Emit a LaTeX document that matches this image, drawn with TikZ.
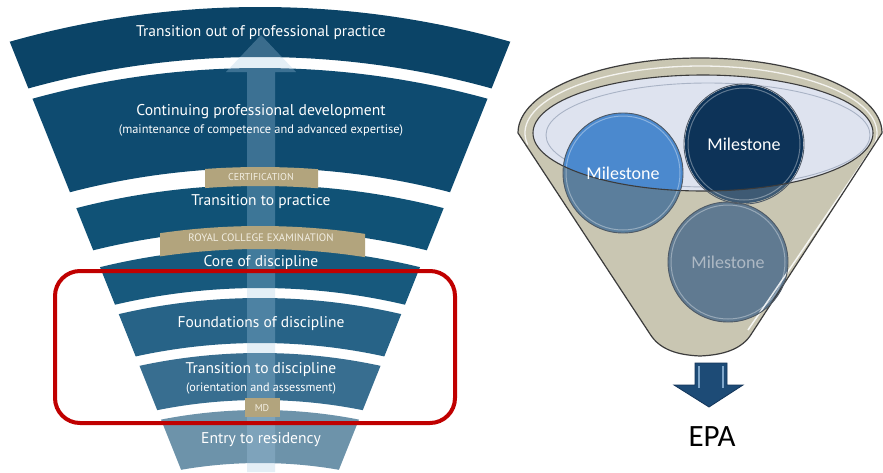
\documentclass[tikz,border=0pt]{standalone}
\usepackage{fontspec}
\newfontfamily\ptsans{PT Sans}
\newfontfamily\carlito{Carlito}
\definecolor{bandA}{HTML}{0B4467}
\definecolor{bandB}{HTML}{0E4B70}
\definecolor{bandC}{HTML}{105276}
\definecolor{bandD}{HTML}{17597D}
\definecolor{bandE}{HTML}{276387}
\definecolor{bandF}{HTML}{386E90}
\definecolor{bandG}{HTML}{6D93AA}
\definecolor{arrowc}{HTML}{A8CBE4}
\definecolor{gold}{HTML}{B2A47D}
\definecolor{goldtxt}{HTML}{F2EEE2}
\definecolor{redbox}{HTML}{C00000}
\definecolor{khaki}{HTML}{C9C6B2}
\definecolor{funline}{HTML}{3C3C3C}
\definecolor{pale}{HTML}{DEE3EF}
\definecolor{innerring}{HTML}{A9B3C5}
\definecolor{mAbright}{HTML}{4B89CE}
\definecolor{mAmuted}{HTML}{5B7E9C}
\definecolor{mBbright}{HTML}{0D3358}
\definecolor{mBmuted}{HTML}{3E5A74}
\definecolor{mC}{HTML}{607A91}
\definecolor{mCtxt}{HTML}{AEB9C4}
\definecolor{ringc}{HTML}{4F5A66}
\definecolor{epac}{HTML}{1D4B76}
\definecolor{epaline}{HTML}{13355A}
\definecolor{epalight}{HTML}{7FA6C9}
\begin{document}
\begin{tikzpicture}[x=1pt,y=-1pt,
  bandtext/.style={text=white, inner sep=0pt, anchor=center},
  goldtext/.style={text=goldtxt, inner sep=0pt, font=\ptsans\fontsize{10}{11}\selectfont},
  mile/.style={circle, minimum size=120pt, inner sep=0pt, draw=ringc, line width=0.9pt, font=\carlito\fontsize{18}{20}\selectfont},
]
\useasboundingbox (0,0) rectangle (883,472);
\fill[white] (0,0) rectangle (883,472);

% ---------- left funnel bands ----------
\begin{scope}
\clip (-7,0) -- (527,0) -- (338,472) -- (182,472) -- cycle;
\foreach \ro/\ri/\c in {913/863/bandA, 852/752/bandB, 735/690/bandC, 672/632/bandD, 622/577/bandE, 567/520/bandF, 510/457/bandG}
  \fill[\c, even odd rule] (260,920) circle[radius=\ro pt] (260,920) circle[radius=\ri pt];
\end{scope}

% translucent upward arrow
\fill[arrowc, opacity=0.3] (261,35) -- (296,72) -- (275,72) -- (275,472) -- (247,472) -- (247,72) -- (226,72) -- cycle;

% gold labels
\begin{scope}
\clip (205,150) rectangle (318,200);
\fill[gold, even odd rule] (260,920) circle[radius=753pt] (260,920) circle[radius=734pt];
\end{scope}
\begin{scope}
\clip (160,210) rectangle (365,260);
\fill[gold, even odd rule] (260,920) circle[radius=694pt] (260,920) circle[radius=671pt];
\end{scope}
\fill[gold] (245,398) rectangle (280,417);

% texts
\node[bandtext, font=\ptsans\fontsize{15.5}{17}\selectfont] (t1) at (261,33) {Transition out of professional practice};
\node[bandtext, font=\ptsans\fontsize{15.6}{17}\selectfont] (t2) at (261,112) {Continuing professional development};
\node[bandtext, font=\ptsans\fontsize{12.4}{14}\selectfont] (t2b) at (261,130) {(maintenance of competence and advanced expertise)};
\node[goldtext] (g1) at (261,177) {CERTIFICATION};
\node[bandtext, font=\ptsans\fontsize{15.5}{17}\selectfont] (t3) at (261,202) {Transition to practice};
\node[goldtext, font=\ptsans\fontsize{10.8}{12}\selectfont] (g2) at (261,238) {ROYAL COLLEGE EXAMINATION};
\node[bandtext, font=\ptsans\fontsize{15.5}{17}\selectfont] (t4) at (261,263) {Core of discipline};
\node[bandtext, font=\ptsans\fontsize{15.5}{17}\selectfont] (t5) at (261,324) {Foundations of discipline};
\node[bandtext, font=\ptsans\fontsize{15.5}{17}\selectfont] (t6) at (261,370) {Transition to discipline};
\node[bandtext, font=\ptsans\fontsize{12.2}{14}\selectfont] (t6b) at (261,388) {(orientation and assessment)};
\node[goldtext] (g3) at (262,408) {MD};
\node[bandtext, font=\ptsans\fontsize{15.6}{17}\selectfont] (t7) at (261,440) {Entry to residency};

% red highlight box
\draw[redbox, line width=4pt, rounded corners=25pt] (55,271) rectangle (455,423);

% ---------- right funnel ----------
\path[fill=khaki] (518,133) arc[start angle=180, end angle=360, x radius=182, y radius=75]
  -- (752,333) .. controls (742,350) and (722,355) .. (700,356)
  .. controls (678,355) and (660,350) .. (650,334) -- cycle;
\fill[pale] (703,133) ellipse[x radius=170, y radius=58];
\draw[innerring, line width=0.9pt] (708,135) ellipse[x radius=162, y radius=52];

% milestone circles, muted (inside funnel)
\fill[mAmuted] (623,173) circle[radius=60pt];
\fill[mBmuted] (744,144) circle[radius=59pt];
\fill[mC] (728,262) circle[radius=60pt];
% bright parts inside the opening
\begin{scope}
\clip (703,133) ellipse[x radius=170, y radius=58];
\fill[mAbright] (623,173) circle[radius=60pt];
\fill[mBbright] (744,144) circle[radius=59pt];
\end{scope}
% inner glassy rings
\foreach \cx/\cy/\r in {623/173/57, 744/144/56, 728/262/57}
  \draw[white, opacity=0.35, line width=1pt] (\cx,\cy) circle[radius=\r pt];

% opening outline
\draw[funline, line width=1.1pt] (703,133) ellipse[x radius=170, y radius=58];
% rim highlight
\draw[white, opacity=0.8, line width=1.3pt] (701,133) ++(170:176 and 67) arc[start angle=170, end angle=372, x radius=176, y radius=67];
\draw[white, opacity=0.85, line width=1.5pt] (873,147) -- (748,330);

% funnel outline
\draw[funline, line width=1.2pt] (518,133) arc[start angle=180, end angle=360, x radius=182, y radius=75]
  -- (752,333) .. controls (742,350) and (722,355) .. (700,356)
  .. controls (678,355) and (660,350) .. (650,334) -- cycle;

% milestone nodes (text + outline)
\node[mile, text=white] (m1) at (623,173) {Milestone};
\node[mile, text=white] (m2) at (744,144) {Milestone};
\node[mile, text=mCtxt] (m3) at (728,262) {Milestone};

% down arrow to EPA
\path[fill=epac, draw=epaline, line width=0.8pt] (695,363) -- (727,363) -- (727,385) -- (743,385) -- (709,407) -- (674,385) -- (695,385) -- cycle;
\draw[epalight, line width=1.2pt] (699,366) -- (699,388);
\draw[epalight, line width=1.2pt] (723,366) -- (723,388);

\node[inner sep=0pt, font=\carlito\fontsize{31}{34}\selectfont, text=black] (epa) at (712,437) {EPA};
\end{tikzpicture}
\end{document}
